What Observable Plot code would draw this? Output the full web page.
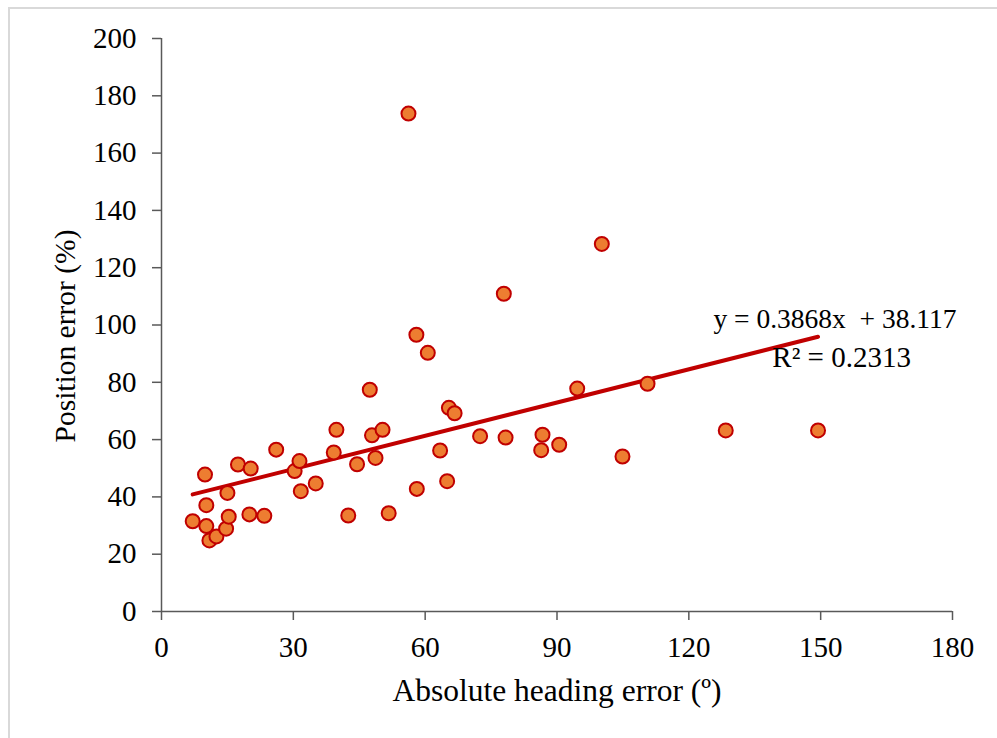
<!DOCTYPE html>
<html>
<head>
<meta charset="utf-8">
<script src="https://cdn.jsdelivr.net/npm/d3@7"></script>
<script src="https://cdn.jsdelivr.net/npm/@observablehq/plot@0.6"></script>
<style>
  html, body { margin: 0; padding: 0; background: #fff; }
  #wrap { position: relative; width: 997px; height: 738px; overflow: hidden; }
  #border { position: absolute; left: 8px; top: 7px; width: 1200px; height: 1000px;
            border-top: 2px solid #d9d9d9; border-left: 2px solid #d9d9d9; pointer-events: none; }
  svg text { white-space: pre; }
</style>
</head>
<body>
<div id="wrap"><div id="border"></div></div>
<script>
// Absolute heading error (º)
const headingError = [7.1, 9.9, 10.2, 10.2, 10.9, 12.5, 14.7, 15.3, 15.0, 17.4,
  20.3, 20.0, 23.4, 26.1, 30.3, 31.4, 31.7, 35.1, 39.2, 39.8,
  42.5, 44.5, 47.4, 47.9, 50.3, 48.7, 51.7, 56.2, 58.0, 58.1,
  60.6, 63.4, 65.0, 65.4, 66.7, 72.5, 77.9, 78.3, 86.7, 86.4,
  90.5, 94.6, 100.2, 104.9, 110.6, 128.4, 149.4];
// Position error (%)
const positionError = [31.5, 47.8, 37.1, 29.8, 24.8, 26.2, 28.9, 33.1, 41.4, 51.3,
  49.9, 33.9, 33.4, 56.5, 49.0, 52.5, 42.0, 44.7, 55.5, 63.4,
  33.5, 51.4, 77.4, 61.5, 63.4, 53.6, 34.3, 173.8, 96.6, 42.8,
  90.3, 56.2, 45.5, 71.1, 69.2, 61.2, 110.9, 60.7, 61.7, 56.3,
  58.2, 77.8, 128.3, 54.1, 79.5, 63.2, 63.2];
// Linear trend line
const slope = 0.3868;
const intercept = 38.117;
const rSquared = 0.2313;
const xTicks = [0, 30, 60, 90, 120, 150, 180];
const yTicks = [0, 20, 40, 60, 80, 100, 120, 140, 160, 180, 200];
const eqLabel = "y = 0.3868x  + 38.117";
const r2Label = "R\u00B2 = 0.2313";
const xTitle = "Absolute heading error (\u00BA)";
const yTitle = "Position error (%)";

const points = headingError.map((x, i) => ({x, y: positionError[i]}));
const xMin = d3.min(headingError), xMax = d3.max(headingError);
const trend = [xMin, xMax].map(x => ({x, y: slope * x + intercept}));

const font = "'Liberation Serif', 'Times New Roman', serif";

const chart = Plot.plot({
  width: 997,
  height: 738,
  marginLeft: 161,
  marginRight: 45,
  marginTop: 38,
  marginBottom: 127,
  style: {fontFamily: font, fontSize: "29px", color: "#000", background: "transparent", overflow: "visible"},
  x: {domain: [0, 180], ticks: xTicks, tickSize: 9, tickPadding: 16, label: null},
  y: {domain: [0, 200], ticks: yTicks, tickSize: 9, tickPadding: 16, label: null},
  marks: [
    Plot.axisX({ticks: xTicks, tickSize: 9, tickPadding: 16, stroke: "#595959", strokeWidth: 1.5, fill: "#000", fontSize: 29, label: null}),
    Plot.axisY({ticks: yTicks, tickSize: 9, tickPadding: 16, stroke: "#595959", strokeWidth: 1.5, fill: "#000", fontSize: 29, label: null}),
    Plot.ruleX([0], {stroke: "#595959", strokeWidth: 1.5}),
    Plot.ruleY([0], {stroke: "#595959", strokeWidth: 1.5}),
    Plot.line(trend, {x: "x", y: "y", stroke: "#c00000", strokeWidth: 4}),
    Plot.dot(points, {x: "x", y: "y", r: 7, fill: "#ed7d31", stroke: "#c00000", strokeWidth: 2, fillOpacity: 1}),
    Plot.text([eqLabel], {x: [125.6], y: [98.8], text: d => d, textAnchor: "start", lineAnchor: "bottom", fontSize: 27.5, fill: "#000"}),
    Plot.text([r2Label], {x: [139.0], y: [85.2], text: d => d, textAnchor: "start", lineAnchor: "bottom", fontSize: 29, fill: "#000"}),
    Plot.text([xTitle], {frameAnchor: "bottom", dy: 79, text: d => d, textAnchor: "middle", lineAnchor: "middle", fontSize: 31.5, fill: "#000"}),
    Plot.text([yTitle], {frameAnchor: "left", dx: -96, dy: 11, rotate: -90, text: d => d, textAnchor: "middle", lineAnchor: "middle", fontSize: 29.5, fill: "#000"})
  ]
});
document.getElementById("wrap").appendChild(chart);
chart.style.position = "absolute";
chart.style.left = "0";
chart.style.top = "0";
</script>
</body>
</html>
